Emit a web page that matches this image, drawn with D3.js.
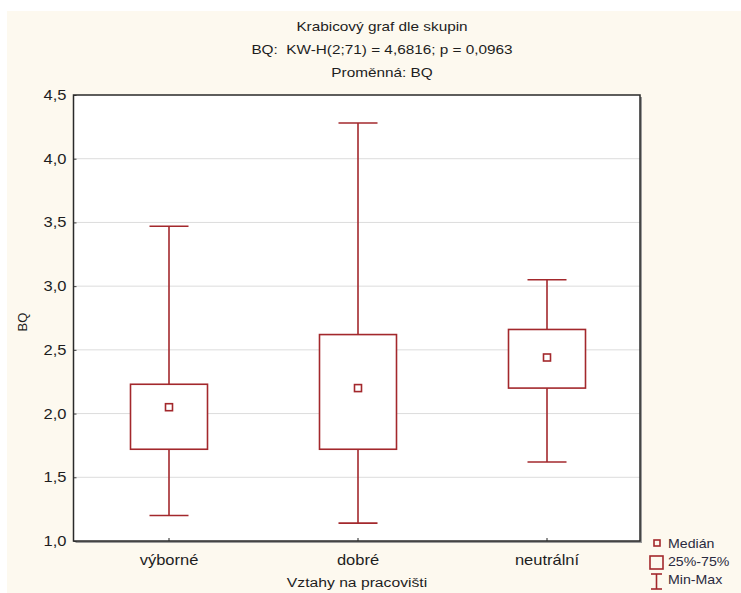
<!DOCTYPE html>
<html>
<head>
<meta charset="utf-8">
<script src="https://cdn.jsdelivr.net/npm/d3@7"></script>
<style>
  body { margin: 0; background: #ffffff; }
  text { font-family: "Liberation Sans", Arial, sans-serif; fill: #1e1e1e; white-space: pre; }
</style>
</head>
<body>
<svg id="chart" width="741" height="593"></svg>
<script>
// Box plot data per group (BQ)
const categories   = ["výborné", "dobré", "neutrální"];
const minValues    = [1.20, 1.14, 1.62];
const q1Values     = [1.72, 1.72, 2.20];
const medianValues = [2.05, 2.20, 2.44];
const q3Values     = [2.23, 2.62, 2.66];
const maxValues    = [3.47, 4.28, 3.05];
const yTickValues  = [1.0, 1.5, 2.0, 2.5, 3.0, 3.5, 4.0, 4.5];
const titleLines   = ["Krabicový graf dle skupin", "BQ:  KW-H(2;71) = 4,6816; p = 0,0963", "Proměnná: BQ"];
const xAxisTitle   = "Vztahy na pracovišti";
const yAxisTitle   = "BQ";
const legendLabels = ["Medián", "25%-75%", "Min-Max"];

const boxColor = "#a3282c";
const svg = d3.select("#chart");

// helper: horizontally widened text
const SX = 1.18;
function label(g, x, y, str, size, anchor) {
  return g.append("text")
    .attr("transform", `translate(${x},${y}) scale(${SX},1)`)
    .attr("text-anchor", anchor || "middle")
    .attr("font-size", size)
    .text(str);
}

// page background
svg.append("rect").attr("x", 7).attr("y", 11).attr("width", 734).attr("height", 582).attr("fill", "#fdf9ef");

const plot = { left: 73.5, top: 95, right: 640, bottom: 541 };

const y = d3.scaleLinear().domain([1, 4.5]).range([plot.bottom, plot.top]);
const x = d3.scaleBand().domain(categories).range([74.5, 641.5]).padding(0);
const cx = c => x(c) + x.bandwidth() / 2;

// plot area with drop shadow
svg.append("rect").attr("x", plot.left + 2).attr("y", plot.top + 2)
  .attr("width", plot.right - plot.left).attr("height", plot.bottom - plot.top)
  .attr("fill", "#9a9a9a");
svg.append("rect").attr("x", plot.left).attr("y", plot.top)
  .attr("width", plot.right - plot.left).attr("height", plot.bottom - plot.top)
  .attr("fill", "#ffffff");

// horizontal grid
svg.append("g").selectAll("line").data(yTickValues.slice(1, -1)).join("line")
  .attr("x1", plot.left).attr("x2", plot.right)
  .attr("y1", d => y(d)).attr("y2", d => y(d))
  .attr("stroke", "#dcdcdc").attr("stroke-width", 1);

// y axis (ticks pointing inward)
const yAxis = d3.axisRight(y).tickValues(yTickValues).tickSize(3).tickFormat(() => "");
const yg = svg.append("g").attr("transform", `translate(${plot.left},0)`).call(yAxis);
yg.select(".domain").remove();
yg.selectAll(".tick line").attr("stroke", "#444");
const fmt = d3.format(".1f");
yTickValues.forEach(v => label(svg, 66.5, y(v) + 5, fmt(v).replace(".", ","), 14, "end"));

// x axis ticks (pointing inward)
const xAxis = d3.axisTop(x).tickSize(3).tickFormat(() => "");
const xg = svg.append("g").attr("transform", `translate(0,${plot.bottom})`).call(xAxis);
xg.select(".domain").remove();
xg.selectAll(".tick line").attr("stroke", "#222");
categories.forEach(c => label(svg, cx(c), 565, c, 14));

// frame
svg.append("rect").attr("x", plot.left).attr("y", plot.top)
  .attr("width", plot.right - plot.left).attr("height", plot.bottom - plot.top)
  .attr("fill", "none").attr("stroke", "#2a2a2a").attr("stroke-width", 1.5);

// boxes
const boxW = 77, capW = 39, medS = 7;
const groups = categories.map((c, i) => ({
  c, min: minValues[i], q1: q1Values[i], med: medianValues[i], q3: q3Values[i], max: maxValues[i]
}));
const bg = svg.append("g").attr("stroke", boxColor).attr("fill", "none").attr("stroke-width", 1.6);
groups.forEach(d => {
  const xc = cx(d.c);
  bg.append("line").attr("x1", xc).attr("x2", xc).attr("y1", y(d.max)).attr("y2", y(d.q3));
  bg.append("line").attr("x1", xc).attr("x2", xc).attr("y1", y(d.q1)).attr("y2", y(d.min));
  bg.append("line").attr("x1", xc - capW / 2).attr("x2", xc + capW / 2).attr("y1", y(d.max)).attr("y2", y(d.max));
  bg.append("line").attr("x1", xc - capW / 2).attr("x2", xc + capW / 2).attr("y1", y(d.min)).attr("y2", y(d.min));
  bg.append("rect").attr("x", xc - boxW / 2).attr("y", y(d.q3))
    .attr("width", boxW).attr("height", y(d.q1) - y(d.q3)).attr("fill", "#ffffff");
  bg.append("rect").attr("x", xc - medS / 2).attr("y", y(d.med) - medS / 2)
    .attr("width", medS).attr("height", medS);
});

// titles
titleLines.forEach((t, i) => label(svg, 382, 31 + i * 23, t, 13));
label(svg, 357, 587, xAxisTitle, 13.3);
svg.append("text").attr("transform", "translate(27,322) rotate(-90)")
  .attr("text-anchor", "middle").attr("font-size", 13).text(yAxisTitle);

// legend
const lg = svg.append("g").attr("stroke", boxColor).attr("fill", "none").attr("stroke-width", 1.6);
lg.append("rect").attr("x", 654).attr("y", 540).attr("width", 6).attr("height", 6);
lg.append("rect").attr("x", 650).attr("y", 556).attr("width", 13).attr("height", 13);
lg.append("line").attr("x1", 656.5).attr("x2", 656.5).attr("y1", 574).attr("y2", 589);
lg.append("line").attr("x1", 651).attr("x2", 662).attr("y1", 574).attr("y2", 574);
lg.append("line").attr("x1", 651).attr("x2", 662).attr("y1", 589).attr("y2", 589);
legendLabels.forEach((t, i) => label(svg, 668, 548 + i * 18, t, 12, "start").style("fill", "#2a2a40"));
</script>
</body>
</html>
